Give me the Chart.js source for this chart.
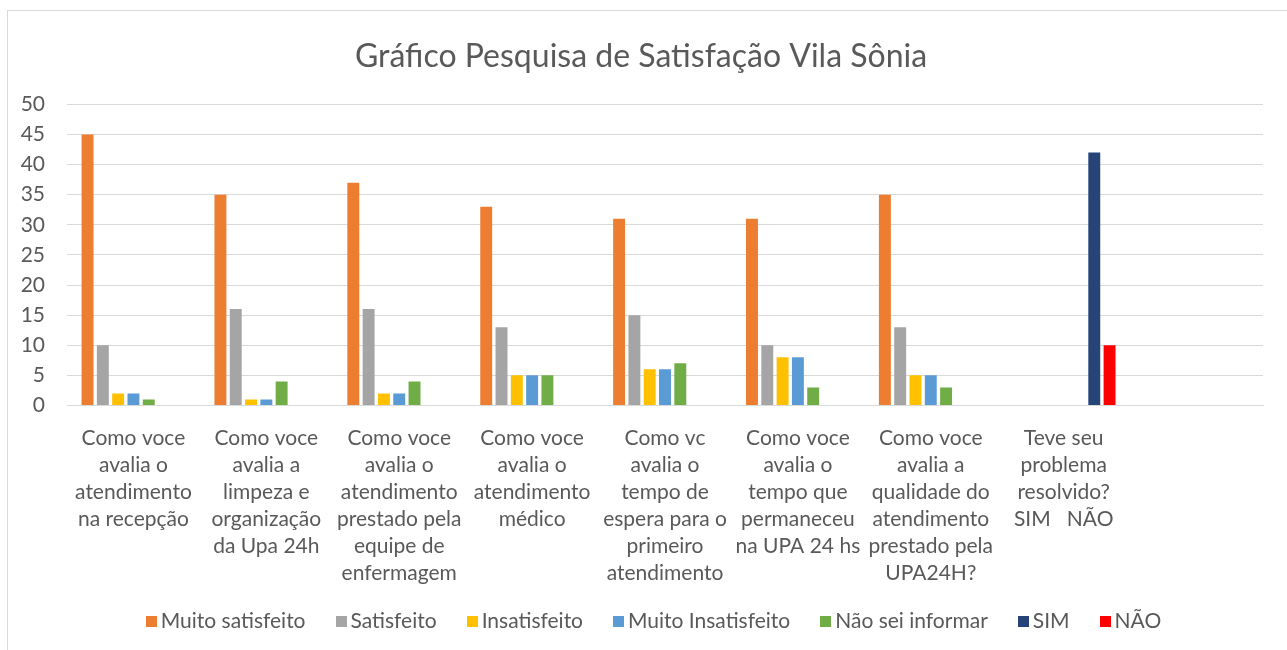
<!DOCTYPE html>
<html lang="pt">

<head>
  <meta charset="UTF-8">
  <title>Pesquisa de Satisfação Vila Sônia</title>
  <script src="https://cdn.jsdelivr.net/npm/chart.js@4.4.0/dist/chart.umd.min.js"></script>
  <style>
    html, body { margin: 0; background: #fff; overflow: hidden; }
    #box {
      position: absolute; left: 7px; top: 10px;
      width: 1300px; height: 660px;
      border: 1px solid #d9d9d9;
    }
    #legenda {
      position: absolute; left: 0; top: 608px; width: 1287px;
      padding-left: 20px; box-sizing: border-box;
      display: flex; justify-content: center; gap: 30px;
      font-family: Lato, "Open Sans", sans-serif; font-size: 21px; line-height: 24px;
      color: #595959;
    }
    #legenda span.item { display: flex; align-items: center; white-space: nowrap; }
    #legenda span.cor { width: 11px; height: 11px; margin-right: 4px; margin-top: 2px; }
  </style>
</head>

<body>
  <div id="box"><canvas id="chart" width="1278" height="639"></canvas></div>
  <div id="legenda"></div>
  <script>
    // perguntas (eixo x), cada linha um item do array
    const perguntas = [
      ['Como voce', 'avalia o', 'atendimento', 'na recepção'],
      ['Como voce', 'avalia a', 'limpeza e', 'organização', 'da Upa 24h'],
      ['Como voce', 'avalia o', 'atendimento', 'prestado pela', 'equipe de', 'enfermagem'],
      ['Como voce', 'avalia o', 'atendimento', 'médico'],
      ['Como vc', 'avalia o', 'tempo de', 'espera para o', 'primeiro', 'atendimento'],
      ['Como voce', 'avalia o', 'tempo que', 'permaneceu', 'na UPA 24 hs'],
      ['Como voce', 'avalia a', 'qualidade do', 'atendimento', 'prestado pela', 'UPA24H?'],
      ['Teve seu', 'problema', 'resolvido?', 'SIM   NÃO'],
      ''
    ];

    const muitoSatisfeito = [45, 35, 37, 33, 31, 31, 35, null, null];
    const satisfeito = [10, 16, 16, 13, 15, 10, 13, null, null];
    const insatisfeito = [2, 1, 2, 5, 6, 8, 5, null, null];
    const muitoInsatisfeito = [2, 1, 2, 5, 6, 8, 5, null, null];
    const naoSeiInformar = [1, 4, 4, 5, 7, 3, 3, null, null];
    const sim = [null, null, null, null, null, null, null, 42, null];
    const nao = [null, null, null, null, null, null, null, 10, null];

    const yTicks = [0, 5, 10, 15, 20, 25, 30, 35, 40, 45, 50];

    const fonte = 'Lato, "Open Sans", sans-serif';
    const cinzaTexto = '#595959';

    function serie(label, data, cor) {
      return {
        label: label,
        data: data,
        backgroundColor: cor,
        borderWidth: 0,
        barPercentage: 0.78,
        categoryPercentage: 0.806
      };
    }

    const ctx = document.getElementById('chart').getContext('2d');
    const myChart = new Chart(ctx, {
      type: 'bar',
      data: {
        labels: perguntas,
        datasets: [
          serie('Muito satisfeito', muitoSatisfeito, '#ED7D31'),
          serie('Satisfeito', satisfeito, '#A5A5A5'),
          serie('Insatisfeito', insatisfeito, '#FFC000'),
          serie('Muito Insatisfeito', muitoInsatisfeito, '#5B9BD5'),
          serie('Não sei informar', naoSeiInformar, '#70AD47'),
          serie('SIM', sim, '#264478'),
          serie('NÃO', nao, '#FF0000')
        ]
      },
      options: {
        responsive: false,
        animation: false,
        layout: { padding: { left: 11, right: 23, top: 0, bottom: 44 } },
        plugins: {
          title: {
            display: true,
            text: 'Gráfico Pesquisa de Satisfação Vila Sônia',
            color: cinzaTexto,
            font: { family: fonte, size: 32, weight: 'normal' },
            padding: { top: 26, bottom: 29 }
          },
          legend: { display: false },
          tooltip: { enabled: false }
        },
        scales: {
          x: {
            grid: { display: false, drawTicks: false },
            border: { color: '#d9d9d9' },
            afterFit: axis => { axis.paddingLeft = 0; axis.paddingRight = 0; },
            ticks: {
              color: cinzaTexto,
              font: { family: fonte, size: 21, lineHeight: 1.29 },
              padding: 19,
              autoSkip: false,
              maxRotation: 0,
              minRotation: 0
            }
          },
          y: {
            min: 0,
            max: 50,
            afterBuildTicks: axis => { axis.ticks = yTicks.map(v => ({ value: v })); },
            afterFit: axis => { axis.width = 48; },
            grid: { color: '#d9d9d9', drawTicks: false },
            border: { display: false },
            ticks: {
              color: cinzaTexto,
              font: { family: fonte, size: 21 },
              padding: 22
            }
          }
        }
      }
    });

    // legenda em html, montada a partir das series do grafico
    const legenda = document.getElementById('legenda');
    myChart.data.datasets.forEach(ds => {
      const item = document.createElement('span');
      item.className = 'item';
      const cor = document.createElement('span');
      cor.className = 'cor';
      cor.style.background = ds.backgroundColor;
      item.appendChild(cor);
      item.appendChild(document.createTextNode(ds.label));
      legenda.appendChild(item);
    });
  </script>
</body>

</html>
